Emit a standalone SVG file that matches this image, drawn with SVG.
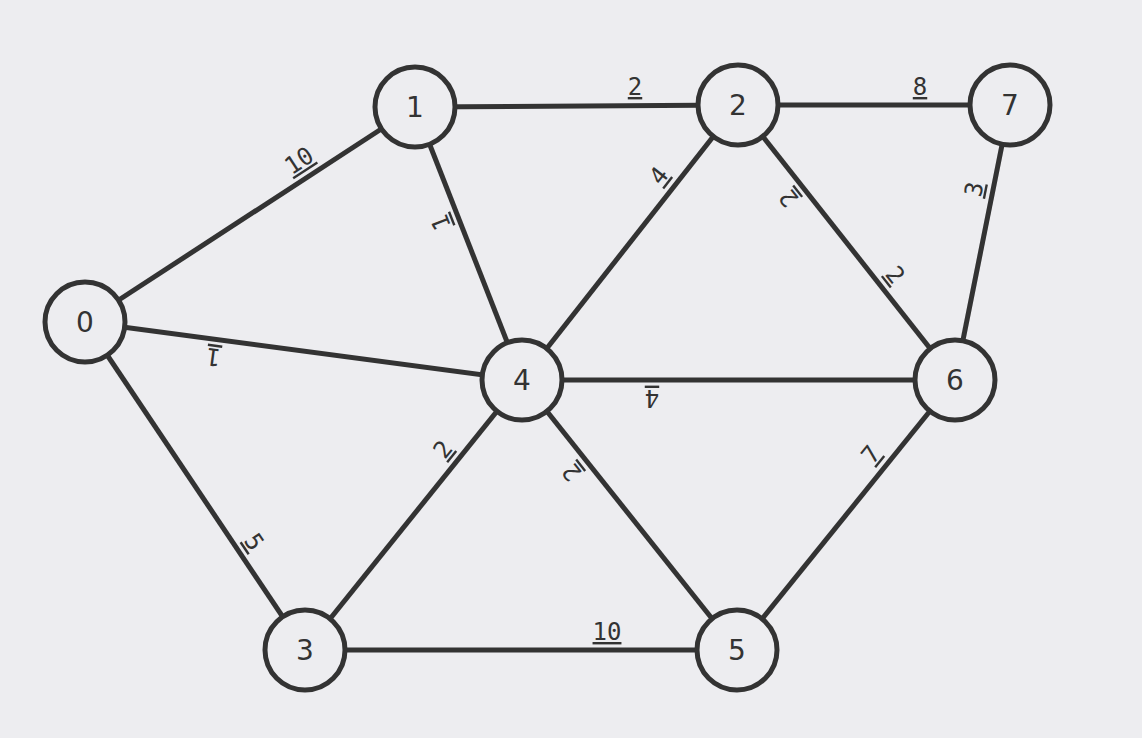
<svg xmlns="http://www.w3.org/2000/svg" width="1142" height="738" viewBox="0 0 1142 738">
<style>
.e{stroke:#333;stroke-width:5;fill:none;marker-end:url(#a)}
.n circle{fill:#ededf0;stroke:#333;stroke-width:5}
.n text{font-family:"DejaVu Sans",sans-serif;font-size:28px;fill:#333;text-anchor:middle}
.l{font-family:"DejaVu Sans Mono",monospace;font-size:24px;fill:#333;text-anchor:middle;text-decoration:underline}
</style>
<defs>
<marker id="a" markerUnits="userSpaceOnUse" markerWidth="60" markerHeight="20" refX="43" refY="0" orient="auto-start-reverse" overflow="visible"><path d="M43,0 L22,-9 L22,9 Z" fill="#333"/></marker>
</defs>
<rect width="1142" height="738" fill="#ededf0"/>
<g id="connectors">
<line class="e" x1="85" y1="322" x2="415" y2="107"/>
<line class="e" x1="415" y1="107" x2="738" y2="105"/>
<line class="e" x1="738" y1="105" x2="1010" y2="105"/>
<line class="e" x1="522" y1="380" x2="415" y2="107"/>
<line class="e" x1="522" y1="380" x2="738" y2="105"/>
<line class="e" x1="738" y1="105" x2="955" y2="380" style="marker-start:url(#a)"/>
<line class="e" x1="955" y1="380" x2="1010" y2="105"/>
<line class="e" x1="522" y1="380" x2="85" y2="322"/>
<line class="e" x1="955" y1="380" x2="522" y2="380"/>
<line class="e" x1="85" y1="322" x2="305" y2="650"/>
<line class="e" x1="305" y1="650" x2="522" y2="380"/>
<line class="e" x1="737" y1="650" x2="522" y2="380"/>
<line class="e" x1="737" y1="650" x2="955" y2="380"/>
<line class="e" x1="305" y1="650" x2="737" y2="650"/>
<g>
<text class="l" transform="translate(309,176) rotate(-33.1)" y="-10">10</text>
<text class="l" transform="translate(635,105) rotate(0)" y="-10">2</text>
<text class="l" transform="translate(920,105) rotate(0)" y="-10">8</text>
<text class="l" transform="translate(458,216) rotate(-111.4)" y="-10">1</text>
<text class="l" transform="translate(673,187) rotate(-51.8)" y="-10">4</text>
<text class="l" transform="translate(881,286) rotate(51.7)" y="-10">2</text>
<text class="l" transform="translate(803,187) rotate(-128.3)" y="-10">2</text>
<text class="l" transform="translate(992,193) rotate(-78.7)" y="-10">3</text>
<text class="l" transform="translate(216,339) rotate(187.6)" y="-10">1</text>
<text class="l" transform="translate(652,380) rotate(180)" y="-10">4</text>
<text class="l" transform="translate(239,552) rotate(56.1)" y="-10">5</text>
<text class="l" transform="translate(457,461) rotate(-51.2)" y="-10">2</text>
<text class="l" transform="translate(586,461) rotate(-128.5)" y="-10">2</text>
<text class="l" transform="translate(885,466) rotate(-51.1)" y="-10">7</text>
<text class="l" transform="translate(607,650) rotate(0)" y="-10">10</text>
</g>
</g>
<g id="n0" class="n"><circle cx="85" cy="322" r="40"/><text x="85" y="332">0</text></g>
<g id="n1" class="n"><circle cx="415" cy="107" r="40"/><text x="415" y="117">1</text></g>
<g id="n2" class="n"><circle cx="738" cy="105" r="40"/><text x="738" y="115">2</text></g>
<g id="n7" class="n"><circle cx="1010" cy="105" r="40"/><text x="1010" y="115">7</text></g>
<g id="n4" class="n"><circle cx="522" cy="380" r="40"/><text x="522" y="390">4</text></g>
<g id="n6" class="n"><circle cx="955" cy="380" r="40"/><text x="955" y="390">6</text></g>
<g id="n3" class="n"><circle cx="305" cy="650" r="40"/><text x="305" y="660">3</text></g>
<g id="n5" class="n"><circle cx="737" cy="650" r="40"/><text x="737" y="660">5</text></g>
</svg>
